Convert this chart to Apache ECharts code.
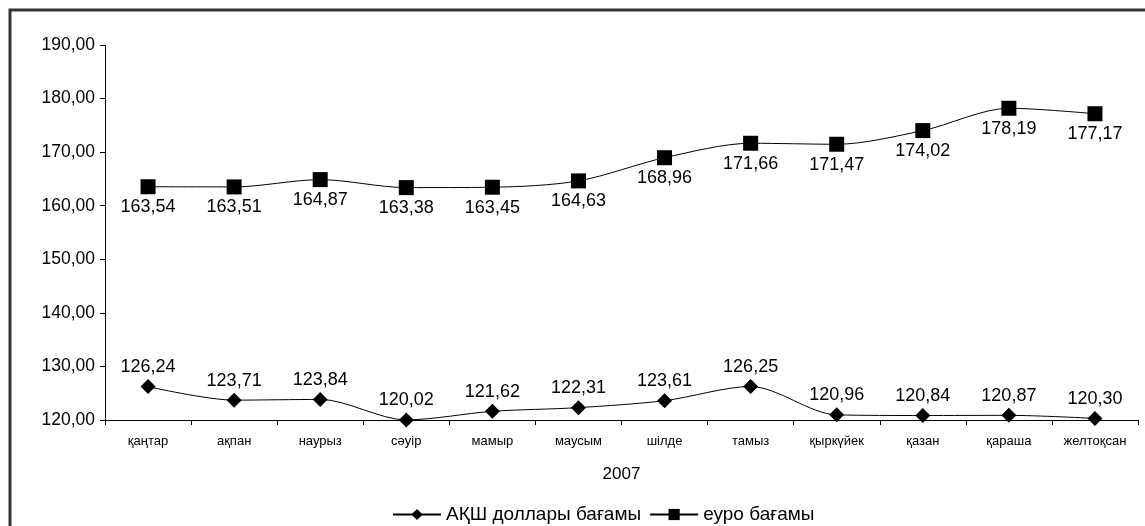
<!DOCTYPE html>
<html><head><meta charset="utf-8">
<script src="https://cdn.jsdelivr.net/npm/echarts@6/dist/echarts.min.js"></script>
<style>html,body{margin:0;padding:0;background:#fff}#c{width:1145px;height:526px}</style>
</head><body><div id="c"></div>
<script>
const categories = ['қаңтар','ақпан','наурыз','сәуір','мамыр','маусым','шілде','тамыз','қыркүйек','қазан','қараша','желтоқсан'];
const usdName = 'АҚШ доллары бағамы';
const eurName = 'еуро бағамы';
const usdValues = [126.24,123.71,123.84,120.02,121.62,122.31,123.61,126.25,120.96,120.84,120.87,120.30];
const eurValues = [163.54,163.51,164.87,163.38,163.45,164.63,168.96,171.66,171.47,174.02,178.19,177.17];
const yMin = 120, yMax = 190, yStep = 10;
const xName = '2007';

const fmt = v => v.toFixed(2).replace('.', ',');
const font = 'Liberation Sans, Arial, sans-serif';
const chart = echarts.init(document.getElementById('c'));
chart.setOption({
  animation: false,
  textStyle: {fontFamily: font, color: '#000'},
  graphic: [{type:'rect', shape:{x:10,y:10,width:1200,height:600}, style:{fill:'none', stroke:'#333', lineWidth:3}}],
  grid: {left:105, right:7, top:45, bottom:106},
  legend: {
    bottom: -3, left: 387, itemWidth: 48, itemHeight: 14, itemGap: 8,
    textStyle: {fontSize: 19, fontFamily: font, color:'#000'},
    data: [usdName, eurName]
  },
  xAxis: {
    type: 'category', data: categories, boundaryGap: true,
    name: xName, nameLocation: 'middle', nameGap: 46,
    nameTextStyle: {fontSize: 17, color:'#000'},
    axisLine: {lineStyle:{color:'#000', width:1}},
    axisTick: {show:true, length:5, inside:false, alignWithLabel:false, lineStyle:{color:'#000'}},
    axisLabel: {fontSize: 13, color:'#000', margin: 15, interval: 0}
  },
  yAxis: {
    type: 'value', min: yMin, max: yMax, interval: yStep,
    axisLine: {show:true, lineStyle:{color:'#000'}},
    axisTick: {show:true, length:5, lineStyle:{color:'#000'}},
    splitLine: {show:false},
    axisLabel: {fontSize: 17.5, color:'#000', margin: 10, formatter: v => fmt(v)}
  },
  series: [
    {
      name: usdName, type: 'line', data: usdValues, smooth: 0.3,
      symbol: 'diamond', symbolSize: 15,
      itemStyle: {color:'#000'}, lineStyle: {color:'#000', width:1},
      label: {show:true, position:'top', distance: 3, fontSize: 18, color:'#000', formatter: p => fmt(p.value)}
    },
    {
      name: eurName, type: 'line', data: eurValues, smooth: 0.3,
      symbol: 'rect', symbolSize: 15,
      itemStyle: {color:'#000'}, lineStyle: {color:'#000', width:1},
      label: {show:true, position:'bottom', distance: 4, fontSize: 18, color:'#000', formatter: p => fmt(p.value)}
    }
  ]
});
</script></body></html>
